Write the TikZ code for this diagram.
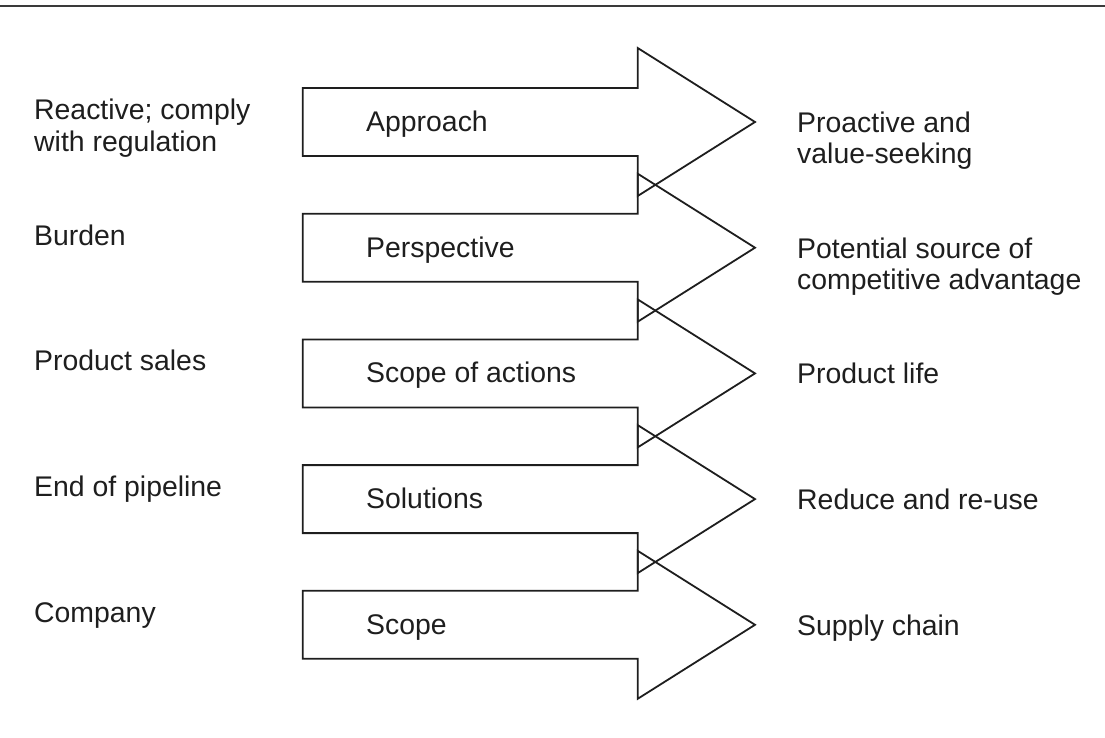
\documentclass[tikz,border=0pt]{standalone}
\usepackage{fontspec}
\setmainfont{Liberation Sans}
\definecolor{ink}{HTML}{1E1E1E}
\definecolor{rule}{HTML}{3A3A3A}
\begin{document}
\begin{tikzpicture}[x=1pt,y=-1pt,
  shiftarrow/.style={draw=ink, line width=1.8pt, line join=miter},
  lbl/.style={text=ink, inner sep=0pt, anchor=base west, align=left,
              font=\fontsize{28.4}{31.5}\selectfont},
]
\useasboundingbox (0,0) rectangle (1105,738);

% rule across the top
\draw[draw=rule, line width=2pt] (0,6) -- (1105,6);

% five outlined block arrows, drawn without fill so the heads overlap
\foreach \c in {122,247.7,373.4,499.1,624.8}{
  \draw[shiftarrow]
    (302.7,\c-34) -- (637.7,\c-34) -- (637.7,\c-74) -- (755,\c)
    -- (637.7,\c+74) -- (637.7,\c+34) -- (302.7,\c+34) -- cycle;
}

% starting points (two-line labels are placed by their last baseline)
\node[lbl] (from1) at (34,151.5) {Reactive; comply\\with regulation};
\node[lbl] (from2) at (34,245.2) {Burden};
\node[lbl] (from3) at (34,370.9) {Product sales};
\node[lbl] (from4) at (34,496.6) {End of pipeline};
\node[lbl] (from5) at (34,622.3) {Company};

% dimensions of the shift
\node[lbl] (dim1) at (366,131.5) {Approach};
\node[lbl] (dim2) at (366,257.2) {Perspective};
\node[lbl] (dim3) at (366,382.9) {Scope of actions};
\node[lbl] (dim4) at (366,508.6) {Solutions};
\node[lbl] (dim5) at (366,634.3) {Scope};

% end points
\node[lbl] (to1) at (797,164) {Proactive and\\value-seeking};
\node[lbl] (to2) at (797,289.7) {Potential source of\\competitive advantage};
\node[lbl] (to3) at (797,383.9) {Product life};
\node[lbl] (to4) at (797,509.6) {Reduce and re-use};
\node[lbl] (to5) at (797,635.3) {Supply chain};
\end{tikzpicture}
\end{document}
